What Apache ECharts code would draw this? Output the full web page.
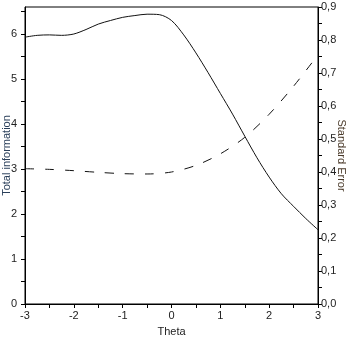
<!DOCTYPE html>
<html>
<head>
<meta charset="utf-8">
<script src="https://cdn.jsdelivr.net/npm/echarts@6/dist/echarts.min.js"></script>
<style>
  html, body { margin: 0; padding: 0; background: #fff; }
  #chart { width: 350px; height: 339px; }
</style>
</head>
<body>
<div id="chart"></div>
<script>
// test information curve, theta on 0.25 steps
const thetaInfo = [-3, -2.75, -2.5, -2.25, -2, -1.75, -1.5, -1.25, -1, -0.75, -0.5, -0.25, 0,
  0.25, 0.5, 0.75, 1, 1.25, 1.5, 1.75, 2, 2.25, 2.5, 2.75, 3];
const totalInfo = [5.93, 5.97, 5.98, 5.97, 6.00, 6.10, 6.22, 6.30, 6.37, 6.41, 6.44, 6.43, 6.30,
  5.98, 5.58, 5.14, 4.68, 4.22, 3.73, 3.25, 2.82, 2.45, 2.17, 1.90, 1.65];

// standard error curve, theta on 0.5 steps
const thetaSE = [-3, -2.5, -2, -1.5, -1, -0.5, 0, 0.5, 1, 1.5, 2, 2.5, 3];
const stdError = [0.41, 0.408, 0.404, 0.399, 0.395, 0.394, 0.40, 0.42, 0.455, 0.505, 0.575, 0.66, 0.755];

const zip = (xs, ys) => xs.map((x, i) => [x, ys[i]]);
const font = "Liberation Sans";
const ink = "#000";
const txt = "#222";

const chart = echarts.init(document.getElementById("chart"), null, { renderer: "canvas" });

chart.setOption({
  animation: false,
  grid: {
    left: 25, right: 32, top: 7, bottom: 35,
    outerBoundsMode: "none", containLabel: false,
    show: true, borderColor: ink, borderWidth: 1
  },
  xAxis: {
    type: "value", min: -3, max: 3, interval: 0.5,
    name: "Theta", nameLocation: "middle", nameGap: 22, nameMoveOverlap: false,
    nameTextStyle: { fontFamily: font, fontSize: 11, color: txt },
    axisLine: { onZero: false, lineStyle: { color: ink } },
    axisTick: { length: 4, lineStyle: { color: ink } },
    axisLabel: {
      fontFamily: font, fontSize: 11, color: txt, margin: 6,
      formatter: (v) => Number.isInteger(v) ? String(v) : ""
    },
    splitLine: { show: false }
  },
  yAxis: [
    {
      type: "value", min: 0, max: 6.6, interval: 0.5, position: "left",
      name: "Total information", nameLocation: "middle", nameGap: 13, nameMoveOverlap: false,
      nameTextStyle: { fontFamily: font, fontSize: 11, color: "#2a3f5a" },
      axisLine: { show: true, onZero: false, lineStyle: { color: ink } },
      axisTick: { show: true, length: 4, lineStyle: { color: ink } },
      axisLabel: {
        fontFamily: font, fontSize: 11, color: txt, margin: 8,
        showMaxLabel: false,
        formatter: (v) => Number.isInteger(v) ? String(v) : ""
      },
      splitLine: { show: false }
    },
    {
      type: "value", min: 0, max: 0.9, interval: 0.05, position: "right",
      name: "Standard Error", nameLocation: "middle", nameGap: 18, nameRotate: -90,
      nameMoveOverlap: false,
      nameTextStyle: { fontFamily: font, fontSize: 11, color: "#4a3a2a" },
      axisLine: { show: true, onZero: false, lineStyle: { color: ink } },
      axisTick: { show: true, length: 4, lineStyle: { color: ink } },
      axisLabel: {
        fontFamily: font, fontSize: 11, color: txt, margin: 3,
        formatter: (v) => {
          const k = Math.round(v * 100);
          return k % 10 === 0 ? (k / 100).toFixed(1).replace(".", ",") : "";
        }
      },
      splitLine: { show: false }
    }
  ],
  series: [
    {
      name: "Total information", type: "line", yAxisIndex: 0, smooth: 0.3, showSymbol: false,
      data: zip(thetaInfo, totalInfo),
      lineStyle: { color: "#111", width: 1 }
    },
    {
      name: "Standard Error", type: "line", yAxisIndex: 1, smooth: 0.3, showSymbol: false,
      data: zip(thetaSE, stdError),
      lineStyle: { color: "#111", width: 1, type: [9, 11] }
    }
  ]
});
</script>
</body>
</html>
